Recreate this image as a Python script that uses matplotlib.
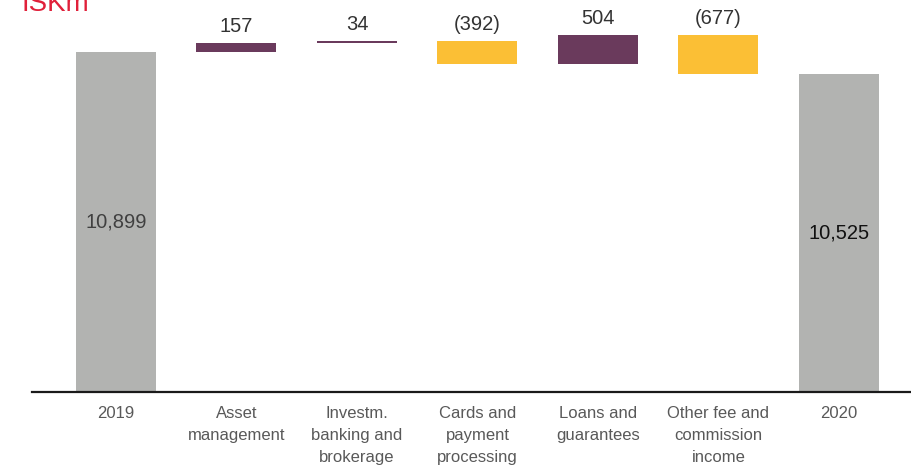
import matplotlib

matplotlib.use("Agg")

import numpy as np
import matplotlib.pyplot as plt

categories = [
    "2019",
    "Asset\nmanagement",
    "Investm.\nbanking and\nbrokerage",
    "Cards and\npayment\nprocessing",
    "Loans and\nguarantees",
    "Other fee and\ncommission\nincome",
    "2020",
]
start_total = 10899
changes = [157, 34, -392, 504, -677]
end_total = 10525

GREY = "#b2b3b1"
PURPLE = "#6a3a5c"
YELLOW = "#fbbf35"

plt.rcParams["font.family"] = ["Liberation Sans", "DejaVu Sans"]

fig = plt.figure(figsize=(9.12, 4.67), dpi=100)
ax = fig.add_axes([32 / 912, 75 / 467, 880 / 912, 392 / 467])

x = np.arange(len(categories))
width = 0.664

# totals
ax.bar(x[0], start_total, width=width, color=GREY)
ax.bar(x[-1], end_total, width=width, color=GREY)
ax.text(x[0], (start_total + 5120) / 2, f"{start_total:,}", ha="center",
        va="center", fontsize=14.5, color="#404040")
ax.text(x[-1], (end_total + 5120) / 2, f"{end_total:,}", ha="center",
        va="center", fontsize=14.5, color="#111111")

# floating steps
running = start_total
for i, c in enumerate(changes, start=1):
    lo = running if c > 0 else running + c
    ax.bar(x[i], abs(c), bottom=lo, width=width,
           color=PURPLE if c > 0 else YELLOW)
    label = f"{c:,}" if c > 0 else f"({-c:,})"
    ax.annotate(label, (x[i], lo + abs(c)), xytext=(0, 5),
                textcoords="offset points", ha="center", va="bottom",
                fontsize=14.5, color="#333333")
    running += c

ax.set_xlim(-0.697, 6.606)
ax.set_ylim(5120, 11790)
ax.set_xticks(x)
ax.set_xticklabels(categories, fontsize=12, color="#595959",
                   linespacing=1.6, va="top")
ax.tick_params(axis="x", length=0, pad=10)
ax.set_yticks([])
for side in ["left", "right", "top"]:
    ax.spines[side].set_visible(False)
ax.spines["bottom"].set_linewidth(1.6)
ax.spines["bottom"].set_color("#1a1a1a")

fig.text(22 / 912, 1 - 11 / 467, "ISKm", fontsize=20, color="#e0203a",
         ha="left", va="baseline")

fig.savefig("out.png", dpi=100)
